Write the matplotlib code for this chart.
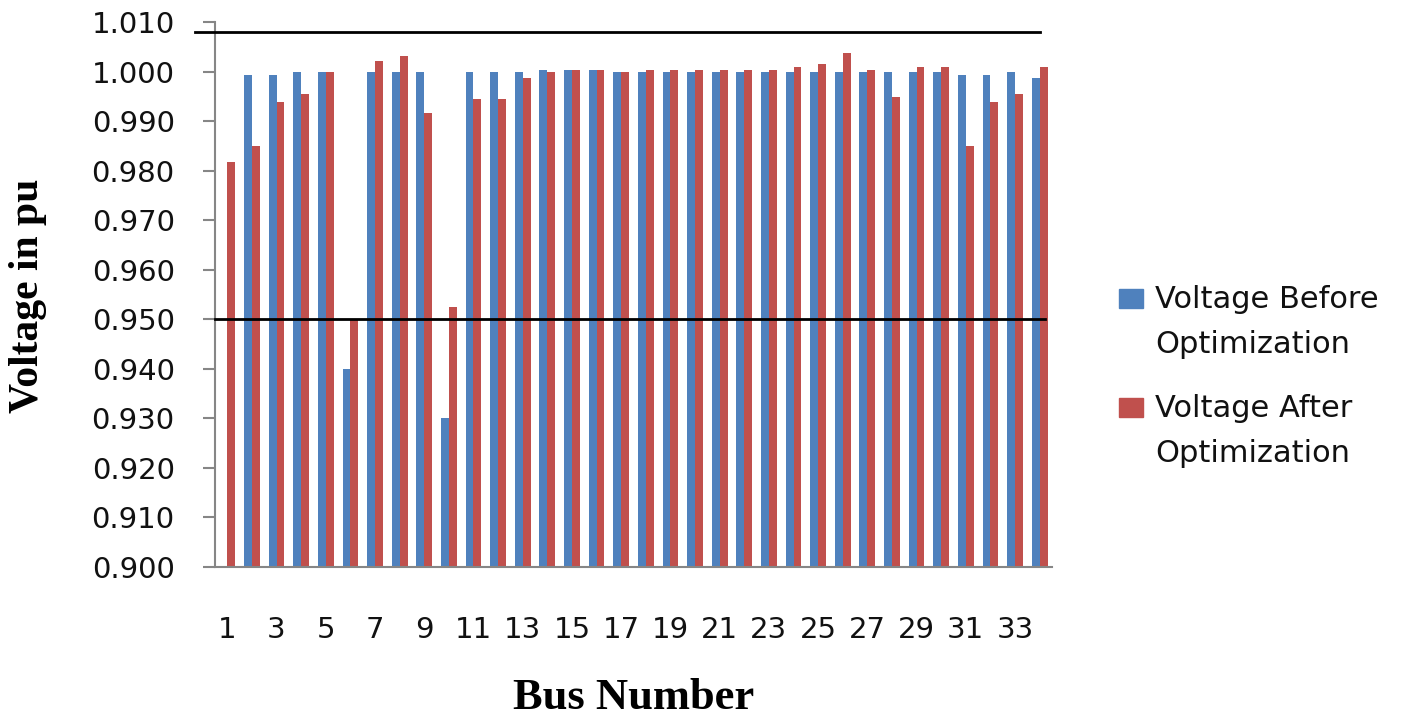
import numpy as np
import matplotlib
matplotlib.use('Agg')
import matplotlib.pyplot as plt
from matplotlib.patches import Rectangle

BUS = np.arange(1, 35)
BEFORE = [0.900, 0.9993, 0.9993, 1.000, 1.000, 0.940, 1.000, 1.000, 1.000, 0.930,
          1.000, 1.000, 1.000, 1.0004, 1.0004, 1.0004, 1.000, 1.000, 1.000, 1.000,
          1.000, 1.000, 1.000, 1.000, 1.000, 1.000, 1.000, 1.000, 1.000, 1.000,
          0.9993, 0.9993, 1.000, 0.9987]
AFTER = [0.9817, 0.9850, 0.9938, 0.9955, 1.000, 0.9498, 1.0021, 1.0032, 0.9916, 0.9524,
         0.9944, 0.9944, 0.9987, 1.000, 1.0004, 1.0004, 1.000, 1.0004, 1.0004, 1.0004,
         1.0004, 1.0004, 1.0004, 1.0010, 1.0015, 1.0037, 1.0004, 0.9949, 1.0010, 1.0010,
         0.9850, 0.9938, 0.9955, 1.0010]
LIMITS = [1.008, 0.950]
YTICKS = np.round(np.arange(0.900, 1.0101, 0.010), 3)
XTICKS = BUS[::2]
LABELS = [['Voltage Before', 'Optimization'], ['Voltage After', 'Optimization']]

BLUE, RED, GRAY = '#4F81BD', '#C0504D', '#868686'
W, H = 1424, 720


def main():
    plt.rcParams['font.family'] = 'DejaVu Sans'
    fig = plt.figure(figsize=(W / 100, H / 100), dpi=100)
    ax = fig.add_axes([215 / W, 1 - 567 / H, 837 / W, 545 / H])

    bw = 0.32
    ax.bar(BUS - bw / 2, BEFORE, width=bw, color=BLUE, zorder=2)
    ax.bar(BUS + bw / 2, AFTER, width=bw, color=RED, zorder=2)

    # limit lines
    ax.axhline(LIMITS[0], xmin=-0.024, xmax=0.986, color='black', lw=2, clip_on=False, zorder=3)
    ax.axhline(LIMITS[1], xmin=0.0, xmax=0.992, color='black', lw=2, clip_on=False, zorder=3)

    ax.set_xlim(0.5, 34.5)
    ax.set_ylim(0.900, 1.010)
    ax.set_yticks(YTICKS)
    ax.set_yticklabels([f'{v:.3f}' for v in YTICKS])
    ax.set_xticks(XTICKS)
    ax.set_xticklabels([str(v) for v in XTICKS])
    ax.tick_params(axis='y', direction='out', length=9, width=1.5, color=GRAY, pad=20,
                   labelsize=21, labelcolor='#111111')
    ax.tick_params(axis='x', length=0, pad=35, labelsize=21, labelcolor='#111111')

    for s in ['top', 'right']:
        ax.spines[s].set_visible(False)
    for s in ['left', 'bottom']:
        ax.spines[s].set_color(GRAY)
        ax.spines[s].set_linewidth(1.5)

    ax.set_xlabel('Bus Number', family='Liberation Serif', fontweight='bold', fontsize=32)
    ax.xaxis.set_label_coords(0.5, -0.240)
    ax.xaxis.label.set_va('center')
    ax.set_ylabel('Voltage in pu', family='Liberation Serif', fontweight='bold', fontsize=30)
    ax.yaxis.set_label_coords(-0.223, 0.497)
    ax.yaxis.label.set_va('center')

    # legend drawn by hand so the swatch sits beside the first line
    for (l1, l2), col, base in zip(LABELS, [BLUE, RED], [308, 417]):
        fig.patches.append(Rectangle((1119 / W, 1 - base / H), 24 / W, 19 / H,
                                     transform=fig.transFigure, color=col))
        fig.text(1155 / W, 1 - base / H, l1, fontsize=22, va='baseline', color='#111111')
        fig.text(1155 / W, 1 - (base + 45) / H, l2, fontsize=22, va='baseline', color='#111111')

    fig.savefig('out.png', dpi=100)


if __name__ == '__main__':
    main()
